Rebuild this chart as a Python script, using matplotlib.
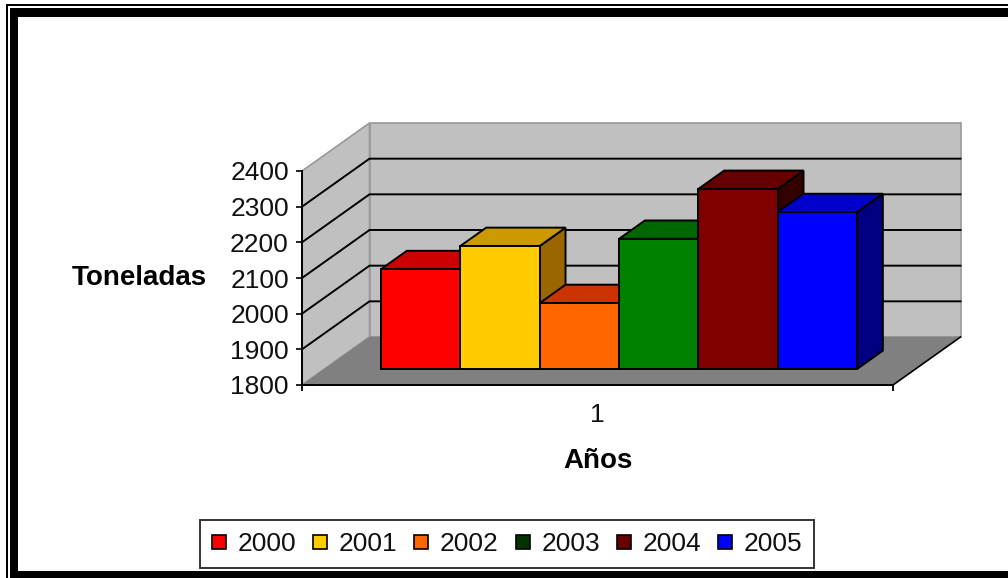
# -*- coding: utf-8 -*-
## Excel style 3D column chart, drawn on a flat axes with an oblique depth offset
import matplotlib
matplotlib.use("Agg")
import matplotlib.pyplot as plt
from matplotlib.lines import Line2D
from matplotlib.patches import Rectangle

plt.rcParams['font.family'] = ['Liberation Sans', 'DejaVu Sans']

## data
years = ['2000', '2001', '2002', '2003', '2004', '2005']
tons = [2080, 2145, 1985, 2165, 2305, 2240]
yticks = [1800, 1900, 2000, 2100, 2200, 2300, 2400]

front = ['#FF0000', '#FFCC00', '#FF6600', '#008000', '#800000', '#0000FF']
top = ['#CC0000', '#CC9900', '#CC3300', '#006600', '#660000', '#0000CC']
side = ['#990000', '#996600', '#993300', '#004D00', '#330000', '#000080']
legend_col = ['#FF0000', '#FFCC00', '#FF6600', '#003300', '#660000', '#0000FF']

## oblique projection, in axes data units
W, H = 1008, 578
DX = 67.5 / 591
DY = 48 / 214 * 600
gap = 1.45
bar_w = 1 / (len(years) + gap)
d0, d1 = 1 / 3, 0.715
x_shift = 0.32


fig = plt.figure(figsize=(W / 100, H / 100), dpi=100, facecolor='white')
ax = fig.add_axes([302 / W, (H - 385) / H, 591 / W, 214 / H])
ax.set_xlim(0, 1)
ax.set_ylim(1800, 2400)
ax.patch.set_visible(False)


def poly(xs, ys, col, edge='black', lw=1.4, z=2):
    ax.fill(xs, ys, facecolor=col, edgecolor=edge, linewidth=lw, clip_on=False,
            zorder=z, joinstyle='miter')


lo, hi = yticks[0], yticks[-1]

## walls and floor
poly([DX, 1 + DX, 1 + DX, DX], [lo + DY, lo + DY, hi + DY, hi + DY], '#C0C0C0', '#999999', 1.2, 1)
poly([0, DX, DX, 0], [lo, lo + DY, hi + DY, hi], '#C0C0C0', '#999999', 1.2, 1)
poly([0, 1, 1 + DX, DX], [lo, lo, lo + DY, lo + DY], '#808080', '#808080', 0.5, 1)

## gridlines on the back and side wall
for v in yticks[1:-1]:
    ax.plot([0, DX, 1 + DX], [v, v + DY, v + DY], color='black', lw=1.4, clip_on=False, zorder=1.5)
ax.plot([1, 1 + DX], [lo, lo + DY], color='black', lw=1.2, clip_on=False, zorder=1.5)

## bars, left to right so each one covers the side of the one before
for i, v in enumerate(tons):
    x0 = bar_w * (gap / 2 + i) + DX * x_shift
    x1 = x0 + bar_w
    b0 = lo + DY * d0
    t0 = v + DY * d0
    ox = DX * (d1 - d0)
    oy = DY * (d1 - d0)
    z = 2 + i * 0.1
    poly([x1, x1 + ox, x1 + ox, x1], [b0, b0 + oy, t0 + oy, t0], side[i], z=z)
    poly([x0, x1, x1 + ox, x0 + ox], [t0, t0, t0 + oy, t0 + oy], top[i], z=z)
    poly([x0, x1, x1, x0], [b0, b0, t0, t0], front[i], z=z)

## axes
for s in ['top', 'right']:
    ax.spines[s].set_visible(False)
for s in ['left', 'bottom']:
    ax.spines[s].set_linewidth(1.4)
    ax.spines[s].set_zorder(3)
ax.set_yticks(yticks)
ax.set_xticks([0, 1], ['', ''])
ax.set_xticks([0.5], ['1'], minor=True)
ax.tick_params(axis='y', labelsize=19, length=4.5, width=1.3, pad=5, colors='#111111')
ax.tick_params(axis='x', which='major', length=4.5, width=1.3)
ax.tick_params(axis='x', which='minor', length=0, labelsize=19, pad=13, labelcolor='#111111')
ax.set_ylabel('Toneladas', fontsize=20, fontweight='bold', rotation=0, ha='center', va='center')
ax.yaxis.set_label_coords((139 - 302) / 591, 0.5)
ax.set_xlabel('Años', fontsize=20, fontweight='bold', va='center')
ax.xaxis.set_label_coords(0.5, (385 - 461) / 214)

## legend
handles = [Line2D([], [], linestyle='none', marker='s', markersize=10, markerfacecolor=c,
                  markeredgecolor='black', markeredgewidth=1.2) for c in legend_col]
leg = fig.legend(handles, years, loc='lower left', bbox_to_anchor=(200 / W, (H - 568) / H),
                 ncol=6, fontsize=19, frameon=True, fancybox=False, framealpha=1,
                 edgecolor='#333333', borderpad=0.45, borderaxespad=0, handlelength=0.55,
                 handletextpad=0.43, columnspacing=0.63, labelcolor='#111111')
leg.get_frame().set_linewidth(1.4)

## double black frame of the screenshot
for x, y, w, h in [(6, 4, W - 6, 2), (6, 4, 2, H - 4), (10, 8, W - 10, 9),
                   (10, 8, 8, H - 8), (10, 571, W - 10, 7)]:
    fig.add_artist(Rectangle((x / W, (H - y - h) / H), w / W, h / H, transform=fig.transFigure,
                             facecolor='black', edgecolor='none'))

fig.savefig('out.png', dpi=100)
